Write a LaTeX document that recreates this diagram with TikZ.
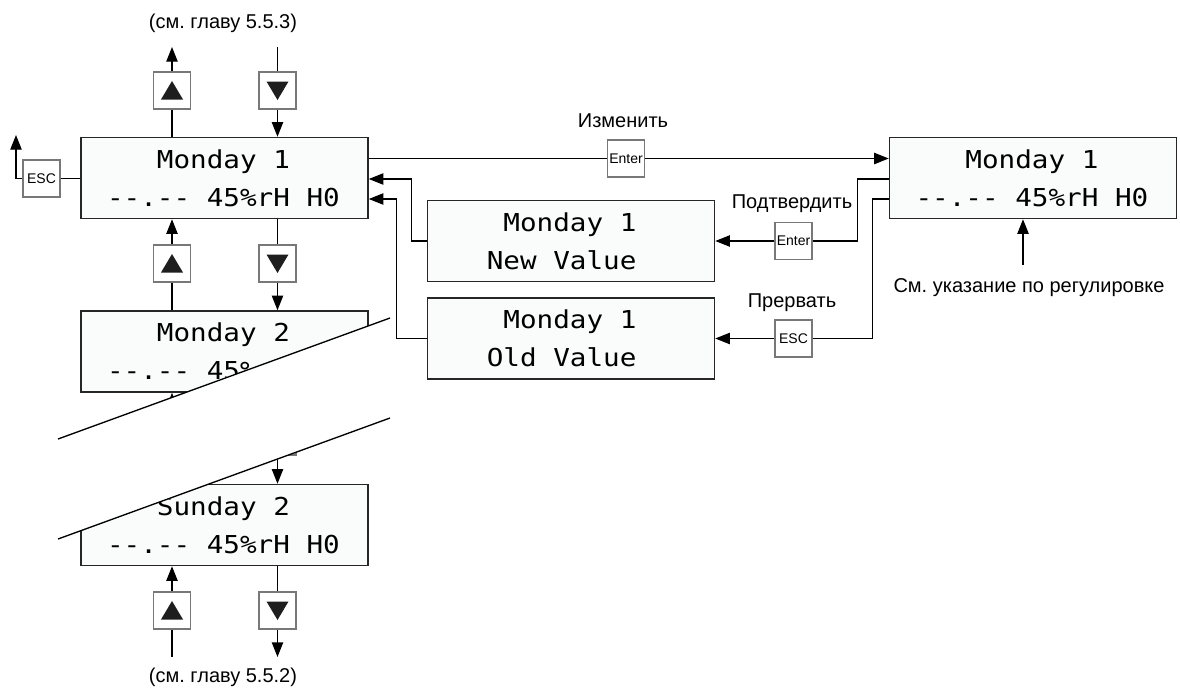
\documentclass[tikz,border=0pt]{standalone}
\usepackage{fontspec}
\setmainfont{Liberation Sans}
\newfontfamily\lcdfont{DejaVu Sans Mono}[Ligatures=TeXOff, FakeStretch=1.12]
\usetikzlibrary{arrows.meta,calc}
\definecolor{lcdbg}{RGB}{250,252,252}
\definecolor{btnline}{RGB}{120,120,120}
\definecolor{tricol}{RGB}{30,30,30}
\frenchspacing
\tikzset{
  lcd/.style={draw=black!85, line width=1.1pt, fill=lcdbg, text width=176.25pt,
    inner xsep=19.5pt, inner ysep=0pt, minimum height=60.75pt, align=left,
    font={\lcdfont\fontsize{18.5pt}{28.5pt}\selectfont}},
  btn/.style={draw=btnline, line width=0.8pt, fill=white, minimum size=27.75pt,
    inner sep=0pt, font={\fontsize{10.5pt}{12pt}\selectfont}},
  lab/.style={font={\fontsize{15pt}{18pt}\selectfont}, inner sep=0pt},
  conn/.style={line width=1pt, draw=black},
  arr/.style={conn, -{Triangle[length=11pt,width=8.5pt]}},
}
\newcommand\lsp{\hphantom{0}}
\newcommand\myuptri[1]{\fill[tricol] ($(#1.center)+(-11,9)$) -- ++(22,0) -- ++(-11,-18.5) -- cycle;}
\newcommand\mydowntri[1]{\fill[tricol] ($(#1.center)+(-11,-9)$) -- ++(22,0) -- ++(-11,18.5) -- cycle;}
\begin{document}
\frenchspacing
\begin{tikzpicture}[x=0.75pt,y=-0.75pt]
\useasboundingbox (0,0) rectangle (1180,690);

% LCD boxes
\node[lcd] (m1) at (224.5,178) {\hphantom{000}Monday\lsp 1\\--.--\lsp 45\%rH\lsp H0};
\node[lcd] (m2) at (224.5,351.5) {\hphantom{000}Monday\lsp 2\\--.--\lsp 45\%rH\lsp H0};
\node[lcd] (s2) at (224.5,525) {\hphantom{000}Sunday\lsp 2\\--.--\lsp 45\%rH\lsp H0};
\node[lcd] (r1) at (1033,178) {\hphantom{000}Monday\lsp 1\\--.--\lsp 45\%rH\lsp H0};
\node[lcd] (nv) at (571,241) {\hphantom{000}Monday\lsp 1\\\hphantom{00}New\lsp Value};
\node[lcd] (ov) at (571,338.5) {\hphantom{000}Monday\lsp 1\\\hphantom{00}Old\lsp Value};

% arrow buttons
\node[btn] (u1) at (172,90.5) {};   \myuptri{u1}
\node[btn] (d1) at (277.5,90.5) {}; \mydowntri{d1}
\node[btn] (u2) at (172,263.5) {};   \myuptri{u2}
\node[btn] (d2) at (277.5,263.5) {}; \mydowntri{d2}
\node[btn] (u3) at (172,436.5) {};   \myuptri{u3}
\node[btn] (d3) at (277.5,436.5) {}; \mydowntri{d3}
\node[btn] (u4) at (172,610.5) {};   \myuptri{u4}
\node[btn] (d4) at (277.5,610.5) {}; \mydowntri{d4}

% top
\coordinate (t1) at (172,47);
\coordinate (t2) at (277.5,47);
\draw[conn] (u1.south) -- (u1.south |- m1.north);
\draw[arr] (u1.north) -- (t1);
\draw[conn] (t2) -- (d1.north);
\draw[arr] (d1.south) -- (d1.south |- m1.north);
% m1 - m2
\draw[arr] (u2.north) -- (u2.north |- m1.south);
\draw[conn] (u2.south) -- (u2.south |- m2.north);
\draw[conn] (d2.north |- m1.south) -- (d2.north);
\draw[arr] (d2.south) -- (d2.south |- m2.north);
% m2 - s2
\draw[arr] (u3.north) -- (u3.north |- m2.south);
\draw[conn] (u3.south) -- (u3.south |- s2.north);
\draw[conn] (d3.north |- m2.south) -- (d3.north);
\draw[arr] (d3.south) -- (d3.south |- s2.north);
% bottom
\coordinate (b1) at (172,657);
\coordinate (b2) at (277.5,657);
\draw[arr] (u4.north) -- (u4.north |- s2.south);
\draw[conn] (b1) -- (u4.south);
\draw[conn] (d4.north |- s2.south) -- (d4.north);
\draw[arr] (d4.south) -- (b2);

\node[lab] (tl) at (223,23) {(см. главу 5.5.3)};
\node[lab] (bl) at (223,677) {(см. главу 5.5.2)};

% ESC on the left
\node[btn] (e1) at (41.5,178.5) {ESC};
\coordinate (escend) at (16,135);
\draw[conn] (e1.east) -- (e1.east -| m1.west);
\draw[arr] (e1.west) -| (escend);

% Enter to edit
\node[btn] (en1) at (626,158.5) {Enter};
\node[lab] (l1) at (623,121) {Изменить};
\draw[conn] (en1.west -| m1.east) -- (en1.west);
\draw[arr] (en1.east) -- (en1.east -| r1.west);

% confirm
\node[btn] (en2) at (793.5,241) {Enter};
\node[lab] (l2) at (792,204) {Подтвердить};
\draw[conn] ($(r1.west)+(0,1)$) -- ++(-31,0) |- (en2.east);
\draw[arr] (en2.west) -- (nv.east);
\draw[arr] (nv.west) -- ++(-15,0) |- ($(m1.east)+(0,1)$);

% abort
\node[btn] (es2) at (793.5,338.5) {ESC};
\node[lab] (l3) at (792,303) {Прервать};
\draw[conn] ($(r1.west)+(0,21)$) -- ++(-16,0) |- (es2.east);
\draw[arr] (es2.west) -- (ov.east);
\draw[arr] (ov.west) -- ++(-30,0) |- ($(m1.east)+(0,21)$);

% pointer note
\coordinate (pp) at (1023,265);
\draw[arr] (pp) -- (pp |- r1.south);
\node[lab] (note) at (1029,288) {См. указание по регулировке};

% break mark
\fill[white] (58,439) -- (390,318) -- (390,418) -- (58,539) -- cycle;
\draw[conn] (58,439) -- (390,318);
\draw[conn] (58,539) -- (390,418);
\end{tikzpicture}
\end{document}
